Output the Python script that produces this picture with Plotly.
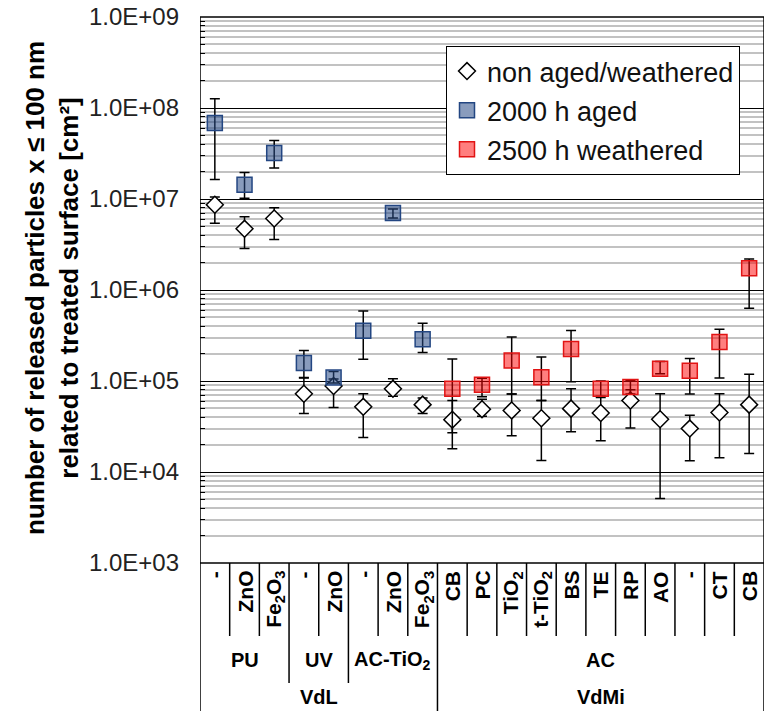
import plotly.graph_objects as go

# ---------------- data ----------------
cat_labels = ["-", "ZnO", "Fe<sub>2</sub>O<sub>3</sub>", "-", "ZnO", "-", "ZnO",
              "Fe<sub>2</sub>O<sub>3</sub>", "CB", "PC", "TiO<sub>2</sub>", "t-TiO<sub>2</sub>",
              "BS", "TE", "RP", "AO", "-", "CT", "CB"]
group_labels = ["PU", "UV", "AC-TiO<sub>2</sub>", "AC"]
group_sizes = [3, 2, 3, 11]
top_labels = ["VdL", "VdMi"]
top_sizes = [8, 11]

non_aged = [8.65e6, 4.7e6, 6.1e6, 7.25e4, 8.8e4, 5.2e4, 8.2e4, 5.5e4, 3.76e4, 4.9e4,
            4.75e4, 3.9e4, 4.97e4, 4.45e4, 6.1e4, 3.8e4, 3.0e4, 4.5e4, 5.5e4]
non_aged_lo = [5.4e6, 2.86e6, 3.6e6, 4.4e4, 5.1e4, 2.4e4, 6.8e4, 4.4e4, 1.8e4, 4.1e4,
               2.5e4, 1.34e4, 2.77e4, 2.2e4, 3.05e4, 5.1e3, 1.33e4, 1.43e4, 1.6e4]
non_aged_hi = [1.05e7, 6.4e6, 8.0e6, 1.08e5, 1.05e5, 7.25e4, 1.06e5, 6.5e4, 6.1e4, 6.3e4,
               7.2e4, 6.1e4, 8.2e4, 6.8e4, 8.0e4, 7.25e4, 4.2e4, 7.25e4, 1.19e5]

aged_idx = [0, 1, 2, 3, 4, 5, 6, 7]
aged = [6.84e7, 1.43e7, 3.2e7, 1.58e5, 1.09e5, 3.57e5, 7.0e6, 2.87e5]
aged_lo = [1.64e7, 1.02e7, 2.19e7, 1.09e5, 9.5e4, 1.73e5, 6.2e6, 2.06e5]
aged_hi = [1.26e8, 1.96e7, 4.4e7, 2.17e5, 1.27e5, 5.87e5, 7.76e6, 4.3e5]

weath_idx = [8, 9, 10, 11, 12, 13, 14, 15, 16, 17, 18]
weath = [8.2e4, 9.1e4, 1.68e5, 1.1e5, 2.25e5, 8.2e4, 8.6e4, 1.36e5, 1.3e5, 2.68e5, 1.73e6]
weath_lo = [2.7e4, 6.7e4, 7.2e4, 6.1e4, 9.8e4, 6.6e4, 7.2e4, 1.2e5, 7.2e4, 1.08e5, 6.3e5]
weath_hi = [1.75e5, 1.07e5, 3.05e5, 1.84e5, 3.6e5, 1.0e5, 1.02e5, 1.64e5, 1.77e5, 3.7e5, 2.19e6]

y_tickvals = [1e3, 1e4, 1e5, 1e6, 1e7, 1e8, 1e9]
y_ticktext = ["1.0E+03", "1.0E+04", "1.0E+05", "1.0E+06", "1.0E+07", "1.0E+08", "1.0E+09"]

# ---------------- figure ----------------
OFF = 8                      # page body margin of the browser
W, H = 773 - OFF, 711 - OFF  # figure size that fits the window
PL, PR, PT, PB = 200, 764, 17, 563   # plot area in window pixels
L, R, T, B = PL - OFF, W - (PR - OFF), PT - OFF, H - (PB - OFF)
ph = H - T - B
pw = W - L - R
FONT = "Liberation Sans, Arial, sans-serif"


def ypaper(pix):  # window pixel -> paper
    return (PB - pix) / ph


def xpaper(pix):
    return (pix - PL) / pw


def err(vals, lo, hi):
    return dict(type="data", symmetric=False,
                array=[h - v for v, h in zip(vals, hi)],
                arrayminus=[v - l for v, l in zip(vals, lo)],
                color="black", thickness=1.5, width=5)


fig = go.Figure()
fig.add_trace(go.Scatter(
    x=list(range(len(non_aged))), y=non_aged, mode="markers", name="non aged/weathered",
    legendgroup="a",
    marker=dict(symbol="diamond", size=13, color="white", line=dict(color="black", width=1.5)),
    error_y=err(non_aged, non_aged_lo, non_aged_hi)))
fig.add_trace(go.Scatter(
    x=aged_idx, y=aged, mode="markers", name="2000 h aged", legendgroup="b",
    marker=dict(symbol="square", size=15, color="rgba(40,75,135,0.55)",
                line=dict(color="rgba(35,70,130,1)", width=1.5)),
    error_y=err(aged, aged_lo, aged_hi)))
fig.add_trace(go.Scatter(
    x=weath_idx, y=weath, mode="markers", name="2500 h weathered", legendgroup="c",
    marker=dict(symbol="square", size=15, color="rgba(255,0,0,0.5)",
                line=dict(color="rgba(225,20,20,1)", width=1.5)),
    error_y=err(weath, weath_lo, weath_hi)))

minor_vals = [m * 10 ** e for e in range(3, 9) for m in range(2, 10)]

fig.update_yaxes(
    type="log", range=[3, 9], tickmode="array", tickvals=y_tickvals, ticktext=y_ticktext,
    tickfont=dict(family=FONT, size=24, color="#222222"),
    ticks="inside", ticklen=6, tickcolor="black", ticklabelstandoff=20,
    ticklabeloverflow="allow",
    showgrid=True, gridcolor="black", gridwidth=1,
    minor=dict(tickmode="array", tickvals=minor_vals, showgrid=True, gridcolor="#c2c2c2",
               gridwidth=1.8, ticks="inside", ticklen=5, tickcolor="black"),
    showline=False, zeroline=False, automargin=False)
fig.update_xaxes(range=[-0.5, len(cat_labels) - 0.5], showticklabels=False, showgrid=False,
                 zeroline=False, showline=False, ticks="", automargin=False)

bottom = ypaper(711 + 2)
shapes = []
shapes.append(dict(type="line", xref="x", yref="paper", x0=-0.5, x1=-0.5, y0=1, y1=bottom,
                   line=dict(color="black", width=1.5)))
shapes.append(dict(type="line", xref="x", yref="paper", x0=len(cat_labels) - 0.5,
                   x1=len(cat_labels) - 0.5, y0=1, y1=bottom, line=dict(color="black", width=1.5)))
shapes.append(dict(type="line", xref="paper", yref="paper", x0=0, x1=1, y0=1, y1=1,
                   line=dict(color="black", width=1.5)))
shapes.append(dict(type="line", xref="paper", yref="paper", x0=0, x1=1, y0=0, y1=0,
                   line=dict(color="black", width=1.5)))

group_bounds = []
s = 0
for g in group_sizes[:-1]:
    s += g
    group_bounds.append(s)
top_bounds = []
s = 0
for g in top_sizes[:-1]:
    s += g
    top_bounds.append(s)

for i in range(1, len(cat_labels)):
    if i in top_bounds:
        yb = bottom
    elif i in group_bounds:
        yb = ypaper(683)
    else:
        yb = ypaper(636)
    shapes.append(dict(type="line", xref="x", yref="paper", x0=i - 0.5, x1=i - 0.5,
                       y0=0, y1=yb, line=dict(color="black", width=1.5)))

annotations = []
for i, lab in enumerate(cat_labels):
    annotations.append(dict(x=i, y=ypaper(569), xref="x", yref="paper", text=lab,
                            textangle=-90, showarrow=False, xanchor="center", yanchor="top",
                            font=dict(family=FONT, size=21, color="black", weight="bold")))
s = 0
for lab, g in zip(group_labels, group_sizes):
    annotations.append(dict(x=s + (g - 1) / 2, y=ypaper(660), xref="x", yref="paper", text=lab,
                            showarrow=False, xanchor="center", yanchor="middle",
                            font=dict(family=FONT, size=20, color="black", weight="bold")))
    s += g
s = 0
for lab, g in zip(top_labels, top_sizes):
    annotations.append(dict(x=s + (g - 1) / 2, y=ypaper(697), xref="x", yref="paper", text=lab,
                            showarrow=False, xanchor="center", yanchor="middle",
                            font=dict(family=FONT, size=20, color="black", weight="bold")))
    s += g

annotations.append(dict(
    x=xpaper(52), y=ypaper(288), xref="paper", yref="paper",
    text="number of released particles x ≤ 100 nm<br>related to treated surface [cm²]",
    textangle=-90, showarrow=False, xanchor="center", yanchor="middle",
    font=dict(family="Liberation Sans Narrow, Arial Narrow, Liberation Sans, sans-serif", size=26,
              color="black", weight="bold")))

fig.update_layout(
    width=W, height=H, margin=dict(l=L, r=R, t=T, b=B, autoexpand=False),
    paper_bgcolor="white", plot_bgcolor="white",
    shapes=shapes, annotations=annotations,
    legend=dict(x=xpaper(446), y=ypaper(46), xanchor="left", yanchor="top",
                bgcolor="white", bordercolor="black", borderwidth=1,
                font=dict(family=FONT, size=27, color="#111111"),
                traceorder="grouped", tracegroupgap=1, itemwidth=30),
)

fig.write_html("out.html")
